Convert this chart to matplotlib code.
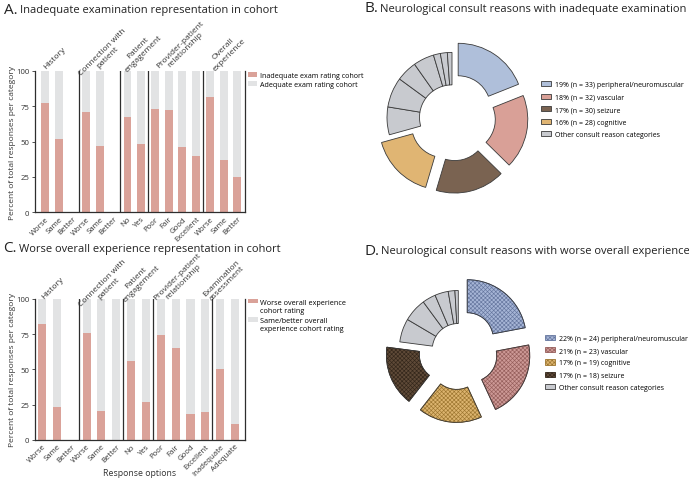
import matplotlib.pyplot as plt
import numpy as np
from matplotlib.patches import Patch, Wedge

plt.rcParams['font.family'] = ['Open Sans', 'DejaVu Sans']
plt.rcParams['hatch.linewidth'] = 0.45

# ---- 数据 ----
# A: inadequate exam cohort (% per response option)
a_options = ['Worse', 'Same', 'Better', 'Worse', 'Same', 'Better', 'No', 'Yes',
             'Poor', 'Fair', 'Good', 'Excellent', 'Worse', 'Same', 'Better']
a_groups = ['History', 'Connection with\npatient', 'Patient\nengagement',
            'Provider-patient\nrelationship', 'Overall\nexperience']
a_group_sizes = [3, 3, 2, 4, 3]
a_inadequate = [77, 52, np.nan, 71, 47, np.nan, 67, 48, 73, 72.5, 46, 40, 81.5, 37, 25]

# C: worse overall experience cohort
c_options = ['Worse', 'Same', 'Better', 'Worse', 'Same', 'Better', 'No', 'Yes',
             'Poor', 'Fair', 'Good', 'Excellent', 'Inadequate', 'Adequate']
c_groups = ['History', 'Connection with\npatient', 'Patient\nengagement',
            'Provider-patient\nrelationship', 'Examination\nassessment']
c_group_sizes = [3, 3, 2, 4, 2]
c_worse = [82, 23.5, np.nan, 76, 20.5, 0, 56, 27, 74, 65, 18.5, 20, 50.5, 11.5]

# B: consult reasons, inadequate exam
b_labels = ['19% (n = 33) peripheral/neuromuscular', '18% (n = 32) vascular',
            '17% (n = 30) seizure', '16% (n = 28) cognitive',
            'Other consult reason categories']
b_counts = [33, 32, 30, 28]
b_other = [12, 13, 9, 9, 3, 3, 2]

# D: consult reasons, worse overall experience
d_labels = ['22% (n = 24) peripheral/neuromuscular', '21% (n = 23) vascular',
            '17% (n = 19) cognitive', '17% (n = 18) seizure',
            'Other consult reason categories']
d_counts = [24, 23, 19, 18]
d_other = [7, 7, 4, 4, 2, 1]

RED = '#daa299'
LIGHT = '#e2e3e4'
EDGE = '#3a3a3a'
AXC = '#2e2e2e'
GRAYSLICE = '#c8cacf'
b_colors = ['#afbfda', '#d9a097', '#7a6351', '#e0b573']
d_colors = ['#a6b5d6', '#cd9996', '#dcb46f', '#5f4a38']
d_hatch_colors = ['#65769e', '#955e5b', '#9d7630', '#33261a']

# 组标题位置 (x 数据坐标, y 数据坐标)
a_group_pos = [(0.91, 107.3), (4.75, 107.8), (7.36, 110.8), (10.4, 113.3), (13.56, 110.2)]
c_group_pos = [(0.88, 106), (4.65, 106), (6.89, 109.6), (9.65, 110.6), (12.6, 109.4)]

W, H = 689, 481
fig = plt.figure(figsize=(W / 100, H / 100), dpi=100)


def bar_panel(rect, options, groups, sizes, group_pos, red, xlim, width, leg_labels):
    ax = fig.add_axes(rect)
    x = np.arange(len(options))
    red = np.array(red, dtype=float)
    ax.bar(x, red, width, color=RED, label=leg_labels[0])
    ax.bar(x, 100 - red, width, bottom=red, color=LIGHT, label=leg_labels[1])
    ax.set_xlim(*xlim)
    ax.set_ylim(0, 100)
    ax.set_yticks([0, 25, 50, 75, 100])
    ax.set_xticks(x)
    ax.set_xticklabels(options, rotation=45, ha='right', rotation_mode='anchor', fontsize=5.6,
                       color='#333333')
    ax.tick_params(axis='x', length=0, pad=2)
    ax.tick_params(axis='y', length=2.5, width=0.6, labelsize=5.6, pad=1.5, colors='#333333')
    for s in ['left', 'bottom', 'right']:
        ax.spines[s].set_linewidth(0.9)
        ax.spines[s].set_color(AXC)
    ax.spines['top'].set_visible(False)
    # 分组竖线 + 斜的组标题
    starts = np.cumsum([0] + sizes[:-1])
    for st in starts[1:]:
        ax.axvline(st - 0.52, color=AXC, lw=0.9)
    for g, (gx, gy) in zip(groups, group_pos):
        ax.text(gx, gy, g, rotation=45, ha='center', va='bottom', rotation_mode='anchor',
                multialignment='center', fontsize=6, color='#333333', clip_on=False)
    ax.set_ylabel('Percent of total responses per category', fontsize=6, color='#333333')
    ax.yaxis.set_label_coords(-0.09, 0.5)
    return ax


axA = bar_panel([35 / W, 1 - 213.3 / H, 210 / W, 141.6 / H], a_options, a_groups, a_group_sizes,
                a_group_pos, a_inadequate, (-0.73, 14.55), 0.58,
                ['Inadequate exam rating cohort', 'Adequate exam rating cohort'])
axA.legend(loc='upper left', bbox_to_anchor=(1.012, 0.99), frameon=False, borderaxespad=0,
           borderpad=0, fontsize=5.1, handlelength=1.4, handleheight=0.6, handletextpad=0.3,
           labelspacing=0.25)

axC = bar_panel([35 / W, 1 - 441 / H, 210 / W, 141.3 / H], c_options, c_groups, c_group_sizes,
                c_group_pos, c_worse, (-0.47, 13.67), 0.54,
                ['Worse overall experience\ncohort rating',
                 'Same/better overall\nexperience cohort rating'])
legC = axC.legend(loc='upper left', bbox_to_anchor=(1.012, 1.0), frameon=False, borderaxespad=0,
                  borderpad=0, fontsize=5.2, handlelength=1.4, handleheight=0.6,
                  handletextpad=0.3, labelspacing=0.5)
for hp in legC._legend_handle_box.get_children()[0].get_children():
    hp.align = 'top'  # 色块对齐第一行
axC.set_xlabel('Response options', fontsize=6.3, color='#333333')
axC.xaxis.set_label_coords(0.5, -0.2)

# ---- 环形图 (像素坐标) ----
axP = fig.add_axes([0, 0, 1, 1])


def donut(cx, cy, R, ring, counts, other, colors, expl, hatch=None, hatch_colors=None):
    vals = counts + other
    cols = colors + [GRAYSLICE] * len(other)
    explode = [expl] * len(counts) + [0] * len(other)
    wedges, _ = axP.pie(vals, colors=cols, explode=explode, startangle=90, counterclock=False,
                        center=(cx, H - cy), radius=R,
                        wedgeprops=dict(width=ring, edgecolor=EDGE, linewidth=0.6))
    if hatch:
        for w, hc in zip(wedges[:len(counts)], hatch_colors):
            w.set_hatch(hatch)
            w.set_edgecolor(hc)  # 网纹颜色跟随边框颜色
            axP.add_patch(Wedge(w.center, w.r, w.theta1, w.theta2, width=w.width,
                                fill=False, edgecolor=EDGE, linewidth=0.6))
    return wedges


donut(452, 118.4, 65, 32.5, b_counts, b_other, b_colors, 11)
donut(458.3, 350.5, 59, 33, d_counts, d_other, d_colors, 14, hatch='xxxxxxxx',
      hatch_colors=d_hatch_colors)
axP.set_xlim(0, W)
axP.set_ylim(0, H)
axP.set_aspect('equal')
axP.axis('off')

b_handles = [Patch(facecolor=c, edgecolor=EDGE, linewidth=0.6) for c in b_colors + [GRAYSLICE]]
d_handles = [Patch(facecolor=c, edgecolor=hc, linewidth=0.6, hatch='xxxxxxxx')
             for c, hc in zip(d_colors, d_hatch_colors)]
d_handles.append(Patch(facecolor=GRAYSLICE, edgecolor=EDGE, linewidth=0.6))
fig.legend(b_handles, b_labels, loc='upper left', bbox_to_anchor=(541 / W, 1 - 82 / H),
           frameon=False, borderpad=0, borderaxespad=0, fontsize=5.0, handlelength=1.4,
           handleheight=0.75, handletextpad=0.65, labelspacing=0.8)
fig.legend(d_handles, d_labels, loc='upper left', bbox_to_anchor=(545 / W, 1 - 336 / H),
           frameon=False, borderpad=0, borderaxespad=0, fontsize=5.0, handlelength=1.4,
           handleheight=0.75, handletextpad=0.65, labelspacing=0.75)

# ---- 面板标题 ----
titles = [(4, 14, 'A.', 'Inadequate examination representation in cohort'),
          (364, 12.3, 'B.', 'Neurological consult reasons with inadequate examination'),
          (3, 252.3, 'C.', 'Worse overall experience representation in cohort'),
          (364, 255, 'D.', 'Neurological consult reasons with worse overall experience')]
for tx, ty, letter, rest in titles:
    t = fig.text(tx / W, 1 - ty / H, letter, fontsize=11, va='baseline', color='#222222')
    axP.annotate(rest, xy=(1, 0), xycoords=t, xytext=(1.5, 1.2), textcoords='offset points',
                 va='bottom', ha='left', fontsize=8, color='#222222')

plt.savefig('out.png', dpi=100)
